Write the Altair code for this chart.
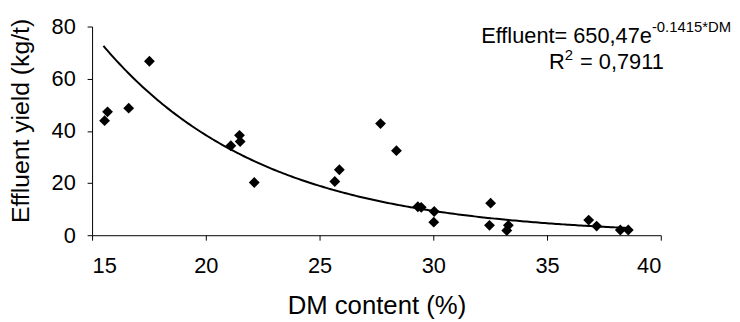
import altair as alt
import pandas as pd

# Data
dm_content = [15.55, 15.68, 16.61, 17.52, 21.10, 21.48, 21.51, 22.13, 25.67, 25.87,
              27.68, 28.38, 29.32, 29.47, 30.04, 30.02, 32.52, 32.47, 33.30, 33.23,
              36.83, 37.18, 38.22, 38.57]
effluent = [43.9, 47.3, 48.7, 66.7, 34.3, 38.3, 35.9, 20.2, 20.6, 25.1,
            42.8, 32.4, 10.9, 10.7, 9.1, 5.0, 12.3, 3.8, 3.8, 1.8,
            5.8, 3.5, 2.0, 2.0]

# Trendline shown in the chart: Effluent = 650,47 e^(-0.1415*DM)
TREND_A = 650.47
TREND_B = -0.1415
TREND_START = 15.5
TREND_STOP = 38.6

x_ticks = [15, 20, 25, 30, 35, 40]
y_ticks = [0, 20, 40, 60, 80]

FONT = "Liberation Sans"

df = pd.DataFrame({"dm": dm_content, "eff": effluent})

x_scale = alt.Scale(domain=[15, 40], nice=False)
y_scale = alt.Scale(domain=[0, 80], nice=False)

x_axis = alt.Axis(values=x_ticks, grid=False, domainColor="black", tickColor="black",
                  tickSize=5, labelFontSize=22, labelColor="black", labelFont=FONT,
                  labelPadding=16, title="DM content (%)", titleFont=FONT,
                  titleFontSize=26, titleFontWeight="normal", titleColor="black",
                  titleBaseline="alphabetic", titleY=79, titleX=287.5,
                  titleAlign="center")
y_axis = alt.Axis(values=y_ticks, grid=False, domainColor="black", tickColor="black",
                  tickSize=5, labelFontSize=22, labelColor="black", labelFont=FONT,
                  labelPadding=12, title="Effluent yield (kg/t)", titleFont=FONT,
                  titleFontSize=25, titleFontWeight="normal", titleColor="black",
                  titleAngle=270, titleBaseline="alphabetic", titleAlign="center",
                  titleX=-64, titleY=95)

points = alt.Chart(df).mark_point(shape="diamond", filled=True, color="black",
                                  size=120, opacity=1).encode(
    x=alt.X("dm:Q", scale=x_scale, axis=x_axis),
    y=alt.Y("eff:Q", scale=y_scale, axis=y_axis),
)

trend = alt.Chart(alt.sequence(TREND_START, TREND_STOP, 0.1, as_="dm")).transform_calculate(
    eff=f"{TREND_A}*exp({TREND_B}*datum.dm)"
).mark_line(color="black", strokeWidth=2).encode(
    x=alt.X("dm:Q", scale=x_scale),
    y=alt.Y("eff:Q", scale=y_scale),
)

def txt(text, x, y, size, align):
    return alt.Chart(pd.DataFrame({"t": [text]})).mark_text(
        align=align, baseline="alphabetic", font=FONT, fontSize=size, color="black"
    ).encode(text="t:N", x=alt.value(x), y=alt.value(y))

ann = (txt("Effluent= 650,47e", 566, 17, 22, "right")
       + txt("-0.1415*DM", 566, 6, 15, "left")
       + txt("R", 462, 43, 22, "left")
       + txt("2", 478, 34, 15, "left")
       + txt("= 0,7911", 578, 43, 22, "right"))

chart = alt.layer(trend, points, ann).properties(
    width=575, height=211,
    autosize=alt.AutoSizeParams(type="none"),
    padding={"left": 85, "top": 17, "right": 72, "bottom": 86},
).configure_view(stroke=None).configure_axis(domainWidth=1, tickWidth=1)

chart.save("out.html", embed_options={"renderer": "svg", "actions": False})
